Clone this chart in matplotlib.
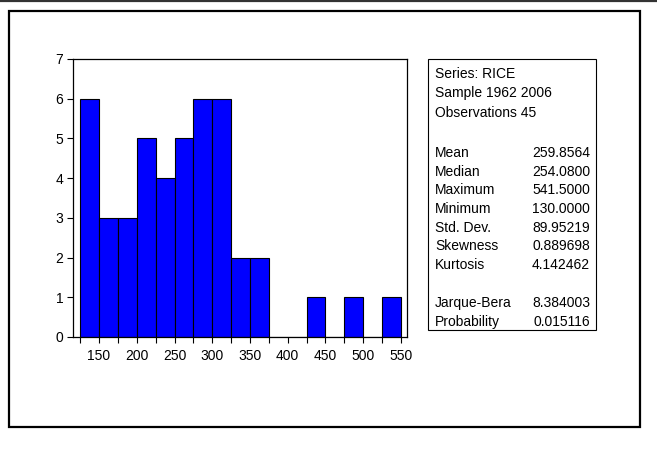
import numpy as np
import matplotlib.pyplot as plt
from matplotlib.patches import Rectangle
from matplotlib.lines import Line2D

plt.rcParams['font.family'] = ['Liberation Sans', 'DejaVu Sans']

# histogram of RICE, bins of width 25
bin_left = [125, 150, 175, 200, 225, 250, 275, 300, 325, 350, 375, 400, 425, 450, 475, 500, 525]
counts = [6, 3, 3, 5, 4, 5, 6, 6, 2, 2, 0, 0, 1, 0, 1, 0, 1]
bin_width = 25

stat_names = ['Mean', 'Median', 'Maximum', 'Minimum', 'Std. Dev.', 'Skewness', 'Kurtosis']
stat_values = ['259.8564', '254.0800', '541.5000', '130.0000', '89.95219', '0.889698', '4.142462']
jb_names = ['Jarque-Bera', 'Probability']
jb_values = ['8.384003', '0.015116']
header = ['Series: RICE', 'Sample 1962 2006', 'Observations 45']

W, H = 657, 449
fig = plt.figure(figsize=(W / 100, H / 100), dpi=100)

def fx(px):
    return px / W

def fy(py):
    return 1 - py / H

# top rule and outer frame
fig.add_artist(Line2D([0, 1], [fy(0.8), fy(0.8)], color='#333333', lw=1.6, transform=fig.transFigure))
fig.add_artist(Rectangle((fx(9), fy(427)), fx(640) - fx(9), fy(11) - fy(427),
                         fill=False, ec='black', lw=1.6, transform=fig.transFigure))

ax = fig.add_axes([fx(73), fy(337), fx(407) - fx(73), fy(59) - fy(337)])
ax.bar(bin_left, counts, width=bin_width, align='edge', color='#0000ff', edgecolor='black', linewidth=0.8)
ax.set_xlim(115.5, 558)
ax.set_ylim(0, 7)
ax.set_xticks(np.arange(150, 551, 50))
ax.set_xticks(np.arange(125, 551, 25), minor=True)
ax.set_yticks(range(0, 8))
ax.tick_params(direction='out', length=4, width=0.8, labelsize=10, pad=3)
ax.tick_params(axis='x', pad=5)
ax.tick_params(which='minor', direction='out', length=4, width=0.8)
for s in ax.spines.values():
    s.set_linewidth(0.9)

# statistics box
fig.add_artist(Rectangle((fx(428), fy(330)), fx(596) - fx(428), fy(59) - fy(330),
                         fill=False, ec='black', lw=0.8, transform=fig.transFigure))
fs = 10
y = 74
for line in header:
    fig.text(fx(435), fy(y), line, fontsize=fs, va='center', ha='left')
    y += 19.5
y = 153
for n, v in zip(stat_names, stat_values):
    fig.text(fx(435), fy(y), n, fontsize=fs, va='center', ha='left')
    fig.text(fx(590), fy(y), v, fontsize=fs, va='center', ha='right')
    y += 18.7
y = 303
for n, v in zip(jb_names, jb_values):
    fig.text(fx(435), fy(y), n, fontsize=fs, va='center', ha='left')
    fig.text(fx(590), fy(y), v, fontsize=fs, va='center', ha='right')
    y += 19

fig.savefig('out.png', dpi=100)
